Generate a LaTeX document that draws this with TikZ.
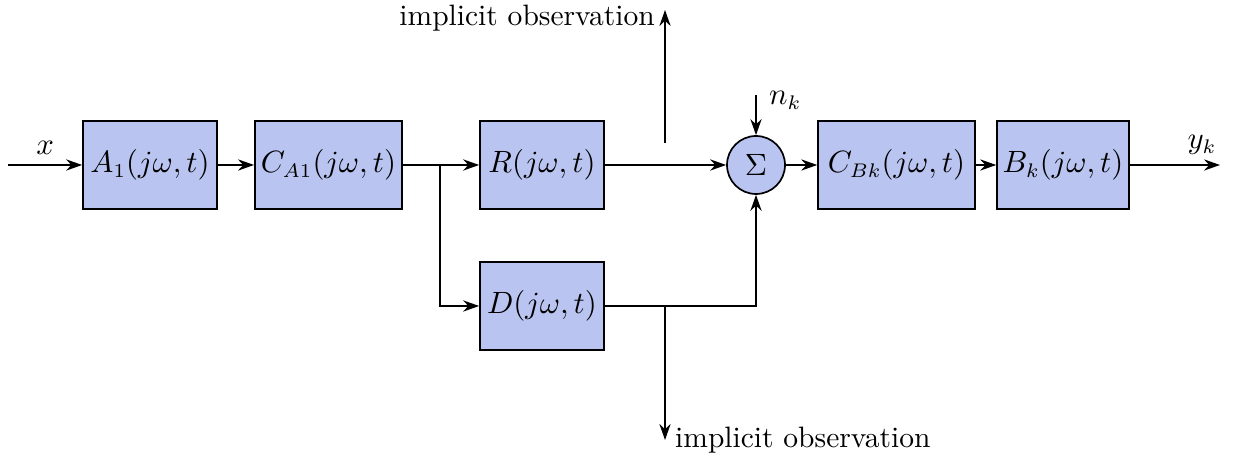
\documentclass[tikz,border=0pt]{standalone}
\usepackage{amsmath}
\usepackage{amssymb}
\usepackage{tikz}
\usetikzlibrary{arrows.meta, positioning}
\definecolor{blockblue}{RGB}{186,196,240}

\begin{document}
\begin{tikzpicture}[scale=1,
  every node/.style={font=\fontsize{10.5}{12.5}\selectfont},
  blk/.style={draw, line width=0.6pt, fill=blockblue, minimum height=1.1cm, inner sep=2pt},
  adder/.style={draw, line width=0.6pt, circle, fill=blockblue, minimum size=0.725cm, inner sep=0pt},
  sig/.style={-{Stealth[length=2mm, width=1.4mm]}, line width=0.6pt}]
  \useasboundingbox (0,-3.6375) rectangle (15.5375,2.0625);

  % 定义各个方框
  \node[blk, minimum width=1.675cm] (a1) at (1.875, 0) {$A_1(j\omega,t)$};
  \node[blk, minimum width=1.84cm] (ca1) at (4.106, 0) {$C_{A1}(j\omega,t)$};
  \node[blk, minimum width=1.55cm] (r) at (6.775, 0) {$R(j\omega,t)$};
  \node[blk, minimum width=1.55cm] (d) at (6.775, -1.7625) {$D(j\omega,t)$};
  \node[adder] (s) at (9.45, 0) {$\Sigma$};
  \node[blk, minimum width=1.96cm] (cbk) at (11.206, 0) {$C_{Bk}(j\omega,t)$};
  \node[blk, minimum width=1.625cm] (bk) at (13.2875, 0) {$B_k(j\omega,t)$};

  % 辅助坐标
  \coordinate (in) at (0.1, 0);
  \coordinate (out) at (15.25, 0);
  \coordinate (br) at (5.5, 0);
  \coordinate (nk) at (9.45, 0.875);
  \coordinate (obsr) at (8.3125, 0.275);
  \coordinate (obsrend) at (8.3125, 1.9375);
  \coordinate (obsd) at (8.3125, -1.7625);
  \coordinate (obsdend) at (8.3125, -3.4375);

  % 绘制信号连线
  \draw[sig] (in) -- node[above] {$x$} (a1);
  \draw[sig] (a1) -- (ca1);
  \draw[sig] (ca1) -- (r);
  \draw[sig] (br) |- (d);
  \draw[sig] (r) -- (s);
  \draw[sig] (d) -| (s);
  \draw[sig] (nk) node[right, xshift=1pt, yshift=-2pt] {$n_k$} -- (s);
  \draw[sig] (s) -- (cbk);
  \draw[sig] (cbk) -- (bk);
  \draw[sig] (bk) -- node[pos=0.8, above] {$y_k$} (out);

  % 隐式观测
  \draw[sig] (obsr) -- (obsrend) node[left, yshift=-3pt] {implicit observation};
  \draw[sig] (obsd) -- (obsdend) node[right] {implicit observation};
\end{tikzpicture}
\end{document}
